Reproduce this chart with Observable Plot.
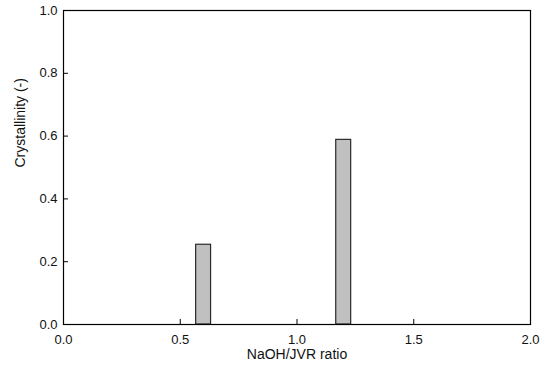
<!DOCTYPE html>
<html>
<head>
<meta charset="utf-8">
<script src="https://cdn.jsdelivr.net/npm/d3@7"></script>
<script src="https://cdn.jsdelivr.net/npm/@observablehq/plot@0.6"></script>
<style>
  html, body { margin: 0; padding: 0; background: #fff; }
  svg { font-family: "Liberation Sans", Arial, sans-serif; }
</style>
</head>
<body>
<div id="chart"></div>
<script>
// Data
const ratios = [0.6, 1.2];
const crystallinity = [0.254, 0.588];
const xTicks = [0, 0.5, 1.0, 1.5, 2.0];
const yTicks = [0, 0.2, 0.4, 0.6, 0.8, 1.0];
const xLabel = "NaOH/JVR ratio";
const yLabel = "Crystallinity (-)";

const data = ratios.map((r, i) => ({ratio: r, value: crystallinity[i]}));
const halfWidth = 0.032;

const W = 543, H = 372;
const mL = 63, mR = 13, mT = 10, mB = 48;
const innerW = W - mL - mR, innerH = H - mT - mB;
const tickLen = 5;

const chart = Plot.plot({
  width: W,
  height: H,
  marginLeft: mL,
  marginRight: mR,
  marginTop: mT,
  marginBottom: mB,
  style: {fontFamily: "'Liberation Sans', Arial, sans-serif", background: "#fff"},
  x: {domain: [0, 2]},
  y: {domain: [0, 1]},
  marks: [
    Plot.rectY(data, {
      x1: d => d.ratio - halfWidth,
      x2: d => d.ratio + halfWidth,
      y1: 0,
      y2: "value",
      fill: "#c0c0c0",
      stroke: "#2a2a2a",
      strokeWidth: 1.2
    }),
    Plot.tickX(xTicks.slice(1, -1), {x: d => d, insetTop: innerH - tickLen, stroke: "#000"}),
    Plot.tickY(yTicks.slice(1, -1), {y: d => d, insetRight: innerW - tickLen, stroke: "#000"}),
    Plot.axisX({ticks: xTicks, tickFormat: d3.format(".1f"), tickSize: 0, tickPadding: 10, label: null, fontSize: 13, fill: "#111"}),
    Plot.axisY({ticks: yTicks, tickFormat: d3.format(".1f"), tickSize: 0, tickPadding: 6, label: null, fontSize: 13, fill: "#111"}),
    Plot.frame({stroke: "#000", strokeWidth: 1.2}),
    Plot.text([xLabel], {text: d => d, frameAnchor: "bottom", dy: 34, fontSize: 14, fill: "#111"}),
    Plot.text([yLabel], {text: d => d, frameAnchor: "left", dx: -43, rotate: -90, fontSize: 14, fill: "#111"})
  ]
});
document.getElementById("chart").appendChild(chart);
</script>
</body>
</html>
